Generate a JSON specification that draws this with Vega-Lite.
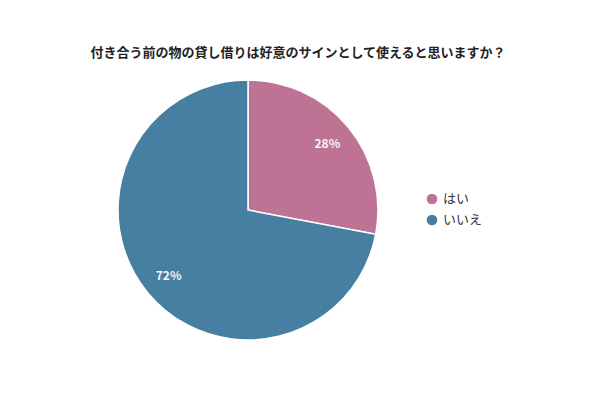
{
  "$schema": "https://vega.github.io/schema/vega-lite/v6.json",
  "autosize": "none",
  "width": 496,
  "height": 260,
  "padding": {"left": 0, "top": 80, "right": 104, "bottom": 60},
  "background": "white",
  "config": {
    "view": {"stroke": null},
    "font": "Noto Sans CJK JP"
  },
  "title": {
    "text": "付き合う前の物の貸し借りは好意のサインとして使えると思いますか？",
    "fontSize": 13,
    "fontWeight": "bold",
    "color": "#222222",
    "anchor": "middle",
    "dx": 50,
    "offset": 17
  },
  "data": {
    "values": [
      {"answer": "はい", "pct": 28, "label": "28%", "order_idx": 1},
      {"answer": "いいえ", "pct": 72, "label": "72%", "order_idx": 2}
    ]
  },
  "encoding": {
    "theta": {"field": "pct", "type": "quantitative", "stack": true},
    "order": {"field": "order_idx", "type": "quantitative"},
    "color": {
      "field": "answer",
      "type": "nominal",
      "sort": ["はい", "いいえ"],
      "scale": {"domain": ["はい", "いいえ"], "range": ["#bf7394", "#467fa2"]},
      "legend": {
        "title": null,
        "orient": "none",
        "legendX": 425,
        "legendY": 112,
        "symbolType": "circle",
        "symbolSize": 150,
        "symbolOpacity": 1,
        "labelFontSize": 13,
        "labelColor": "#333333",
        "rowPadding": 1
      }
    }
  },
  "layer": [
    {
      "mark": {"type": "arc", "outerRadius": 130, "stroke": "white", "strokeWidth": 1.5}
    },
    {
      "mark": {"type": "text", "radius": 103, "fontSize": 12, "fontWeight": "bold"},
      "encoding": {
        "text": {"field": "label", "type": "nominal"},
        "color": {"value": "#f4f4f4"}
      }
    }
  ]
}
